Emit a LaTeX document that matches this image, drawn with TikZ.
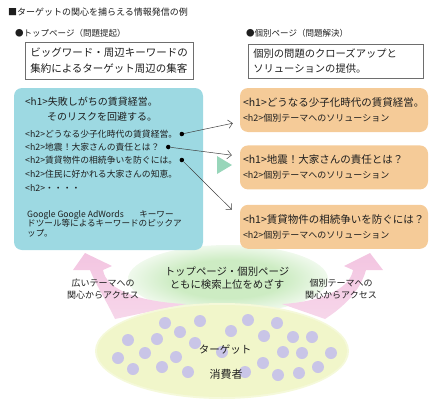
\documentclass[tikz,border=0pt]{standalone}
\usepackage{fontspec}
\setmainfont{Noto Sans CJK JP}
\usetikzlibrary{arrows.meta, positioning, calc}
\definecolor{colTop}{RGB}{157,217,226}
\definecolor{colPage}{RGB}{245,203,152}
\definecolor{colMark}{RGB}{152,214,186}
\definecolor{colCrowd}{RGB}{241,246,202}
\definecolor{colPerson}{RGB}{201,197,231}
\definecolor{colAccess}{RGB}{243,197,225}
\definecolor{colGlow}{RGB}{205,236,195}
\definecolor{colBorder}{RGB}{110,110,110}
\definecolor{colText}{RGB}{30,30,30}
\pgfdeclareradialshading{rankglow}{\pgfpoint{0bp}{0bp}}{color(0bp)=(colGlow); color(14bp)=(colGlow); color(30bp)=(white); color(50bp)=(white)}
\tikzset{
    headline/.style={anchor=west, inner sep=0pt, font=\fontsize{9}{11}\selectfont},
    conceptbox/.style={rectangle, draw=colBorder, line width=0.6pt, align=left, anchor=north west,
        inner xsep=5pt, inner ysep=5.5pt, font=\fontsize{10.5}{16}\selectfont},
    topblock/.style={rectangle, fill=colTop, rounded corners=8pt, minimum width=189pt, minimum height=162pt},
    pageblock/.style={rectangle, fill=colPage, rounded corners=8pt, minimum width=188pt, minimum height=44pt,
        text width=182pt, inner xsep=3pt, align=left, font=\fontsize{9}{15}\selectfont},
    hline/.style={anchor=west, inner sep=0pt, font=\fontsize{8.8}{10}\selectfont},
    bullet/.style={circle, fill=black, inner sep=0pt, minimum size=4.5pt},
    link/.style={-{Straight Barb[length=1.5mm]}, line width=0.5pt, draw=colText!85},
    accesslabel/.style={align=center, font=\fontsize{9}{11.5}\selectfont},
    access/.style={top color=colAccess, bottom color=colAccess!70!white}
}
\newcommand{\hone}[1]{{\fontsize{10.5}{15}\selectfont #1}}

\begin{document}
\begin{tikzpicture}[x=1pt, y=-1pt, every node/.style={text=colText}]

    \useasboundingbox (0,0) rectangle (440,402);

    % glow behind the search goal
    \shade[shading=rankglow] (228,279) ellipse [x radius=100pt, y radius=34pt];

    % access arrows
    \shade[access] (85,253) -- (112,266) -- (103,270) .. controls (106,290) and (140,302) .. (186,304)
        -- (115,319) .. controls (106,300) and (96,285) .. (90,270) -- (73,270) -- cycle;
    \shade[access] (370,253) -- (383,270) -- (366,270) .. controls (360,292) and (342,308) .. (325,319)
        -- (282,304) .. controls (318,302) and (350,290) .. (353,270) -- (344,266) -- cycle;

    % target crowd
    \fill[colCrowd!70!white] (222,351) ellipse [x radius=127pt, y radius=48pt];
    \fill[colCrowd] (222,351) ellipse [x radius=125pt, y radius=46pt];
    \foreach \px/\py in {165/323, 200/321, 248/320, 277/323, 180/332, 231/331, 264/336, 293/337,
        312/337, 128/340, 157/339, 195/343, 145/353, 176/357, 222/352, 283/352, 302/353, 331/353,
        118/358, 133/369, 162/367, 188/372, 245/372, 263/363, 278/375, 299/373, 318/367}
        \fill[colPerson] (\px,\py) circle [radius=6pt];

    \node[headline] (title) at (8,12) {■ターゲットの関心を捕らえる情報発信の例};
    \node[headline, font=\fontsize{8.5}{10}\selectfont] (topHead) at (15,33) {●トップページ（問題提起）};
    \node[headline, font=\fontsize{8.5}{10}\selectfont] (pageHead) at (246,33) {●個別ページ（問題解決）};

    \node[conceptbox, text width=158pt] (topIdea) at (25,42) {ビッグワード・周辺キーワードの\\集約によるターゲット周辺の集客};
    \node[conceptbox, text width=165pt, inner ysep=4.5pt, font=\fontsize{10.3}{15}\selectfont] (pageIdea) at (248,44) {個別の問題のクローズアップと\\ソリューションの提供。};

    % top page
    \node[topblock] (top) at (108.5,169) {};
    \node[anchor=north west, inner sep=0pt, align=left, font=\fontsize{10}{15}\selectfont] (topTitle) at (25,97)
        {<h1>失敗しがちの賃貸経営。\\\hspace*{2.2em}そのリスクを回避する。};
    \node[hline] (l1) at (25,134) {<h2>どうなる少子化時代の賃貸経営。};
    \node[hline] (l2) at (25,147) {<h2>地震！大家さんの責任とは？};
    \node[hline] (l3) at (25,160) {<h2>賃貸物件の相続争いを防ぐには。};
    \node[hline] (l4) at (25,174) {<h2>住民に好かれる大家さんの知恵。};
    \node[hline] (l5) at (25,188) {<h2>・・・・};
    \node[bullet, right=2pt of l1] (d1) {};
    \node[bullet, right=6pt of l2] (d2) {};
    \node[bullet, right=2pt of l3] (d3) {};
    \node[anchor=north west, inner sep=0pt, align=left, font=\fontsize{8.6}{9.8}\selectfont] (tools) at (27,210)
        {Google Google AdWords\hspace{1.8em}キーワー\\ドツール等によるキーワードのピックア\\ップ。};

    % single pages
    \node[pageblock] (p1) at (334,110) {\hone{<h1>どうなる少子化時代の賃貸経営。}\\<h2>個別テーマへのソリューション};
    \node[pageblock, below=13pt of p1] (p2) {\hone{<h1>地震！大家さんの責任とは？}\\<h2>個別テーマへのソリューション};
    \node[pageblock, below=15pt of p2] (p3) {\hone{<h1>賃貸物件の相続争いを防ぐには？}\\<h2>個別テーマへのソリューション};

    \coordinate (e1) at ($(p1.south west)+(-7,-9)$);
    \coordinate (e2) at ($(p2.north west)+(-8,10)$);
    \coordinate (e3) at ($(p3.north west)+(-8,5)$);
    \draw[link] (d1) -- (e1);
    \draw[link] (d2) -- (e2);
    \draw[link] (d3) -- (e3);

    \fill[colMark] (217,156) -- (232,165) -- (217,174) -- cycle;

    \node[accesslabel] (wideAccess) at (103,289) {広いテーマへの\\関心からアクセス};
    \node[accesslabel] (pageAccess) at (341,289) {個別テーマへの\\関心からアクセス};
    \node[align=center, font=\fontsize{10.4}{13.5}\selectfont] (rankGoal) at (227,278) {トップページ・個別ページ\\ともに検索上位をめざす};
    \node[font=\fontsize{10.5}{12}\selectfont] (target) at (225,350) {ターゲット};
    \node[font=\fontsize{11}{12}\selectfont] (consumer) at (226,374) {消費者};

\end{tikzpicture}
\end{document}
